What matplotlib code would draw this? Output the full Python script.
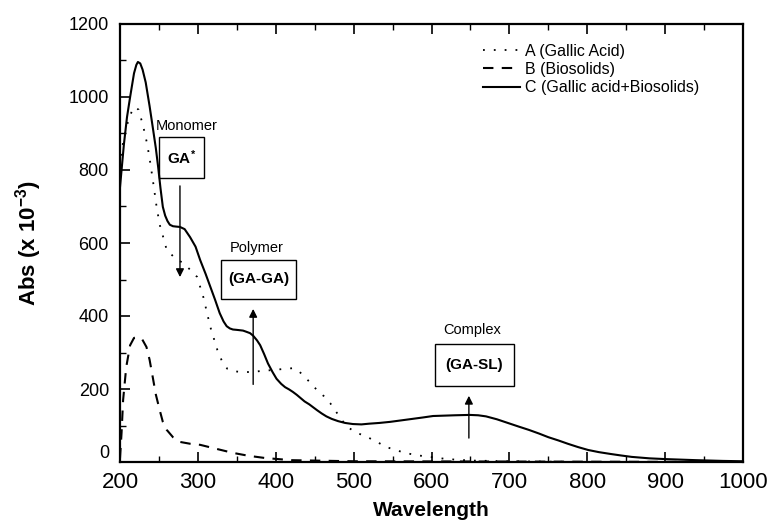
import numpy as np
import matplotlib
matplotlib.use("Agg")
import matplotlib.pyplot as plt
from matplotlib.patches import Rectangle

plt.rcParams["font.family"] = ["Liberation Sans", "DejaVu Sans"]
plt.rcParams["mathtext.default"] = "regular"

# curve C (Gallic acid + Biosolids)
wl_c = [200, 205, 209, 213, 218, 221, 223, 226, 229, 233, 238, 242, 246, 249, 252, 255,
        258, 261, 264, 268, 272, 277, 283, 290, 297, 303, 310, 316, 322, 328, 333, 337,
        341, 345, 350, 354, 358, 362, 367, 371, 376, 380, 385, 390, 396, 401, 407, 412,
        417, 422, 427, 432, 437, 443, 448, 453, 459, 465, 472, 480, 489, 499, 510, 520,
        533, 547, 561, 575, 589, 602, 616, 630, 649, 660, 670, 684, 698, 712, 725, 738,
        750, 763, 775, 788, 801, 815, 830, 843, 857, 880, 900, 940, 974, 1000]
abs_c = [753, 870, 945, 1000, 1065, 1088, 1096, 1092, 1075, 1040, 975, 918, 860, 808, 750, 699,
         675, 660, 650, 646, 645, 644, 638, 616, 590, 553, 515, 480, 445, 408, 385, 372,
         366, 363, 362, 361, 360, 357, 353, 346, 333, 320, 296, 270, 246, 228, 214, 205,
         199, 192, 184, 175, 166, 158, 150, 142, 133, 125, 118, 112, 107, 104, 103, 105,
         107, 110, 114, 118, 122, 126, 127, 128, 129, 128, 125, 117, 107, 97, 88, 78,
         68, 59, 50, 41, 33, 27, 22, 18, 14, 10, 8, 5, 3, 2]

# curve A (Gallic acid)
wl_a = [200, 204, 210, 215, 219, 224, 230, 235, 239, 243, 247, 251, 255, 260, 270, 281,
        290, 299, 307, 316, 325, 332, 338, 345, 358, 371, 384, 397, 410, 422, 428, 435,
        444, 453, 462, 470, 480, 491, 504, 517, 530, 542, 555, 568, 583, 598, 620, 650,
        700, 800, 1000]
abs_a = [780, 880, 930, 960, 973, 965, 918, 870, 818, 760, 699, 650, 620, 581, 560, 545,
         527, 507, 452, 370, 307, 271, 255, 249, 246, 247, 250, 252, 255, 257, 252, 238,
         218, 197, 180, 161, 130, 97, 80, 69, 55, 41, 32, 24, 18, 14, 8, 4,
         2, 0, 0]

# curve B (Biosolids)
wl_b = [200, 202, 204, 208, 213, 218, 223, 228, 234, 238, 242, 246, 251, 255, 260, 268,
        277, 290, 303, 320, 345, 365, 386, 420, 500, 1000]
abs_b = [10, 80, 170, 260, 320, 340, 342, 338, 315, 280, 233, 185, 142, 110, 88, 68,
         55, 50, 47, 38, 25, 17, 11, 5, 2, 0]

fig = plt.figure(figsize=(7.72, 5.25), dpi=100)
ax = fig.add_axes([120 / 772, 63 / 525, 623 / 772, 438 / 525])

ax.plot(wl_a, abs_a, color="black", lw=1.3, linestyle=(0, (1, 5)), label="A (Gallic Acid)")
ax.plot(wl_b, abs_b, color="black", lw=1.5, linestyle=(0, (5, 4)), label="B (Biosolids)")
ax.plot(wl_c, abs_c, color="black", lw=1.5, label="C (Gallic acid+Biosolids)")

ax.set_xlim(200, 1000)
ax.set_ylim(0, 1200)
ax.set_xticks(np.arange(200, 1001, 100))
ax.set_xticks(np.arange(250, 1000, 100), minor=True)
ax.set_yticks(np.arange(0, 1201, 200))
ax.set_yticks(np.arange(100, 1200, 200), minor=True)
ax.tick_params(axis="x", which="both", direction="in", top=True, labelsize=16, pad=7)
ax.tick_params(axis="y", which="both", direction="in", right=False, labelsize=13, pad=8)
ax.tick_params(which="major", length=7, width=1.2)
ax.tick_params(which="minor", length=4, width=1.0)
for s in ax.spines.values():
    s.set_linewidth(1.6)

# lift the "0" label a bit so it sits above the "200" label
ax.get_yticklabels()[0].set_va("bottom")

ax.set_xlabel("Wavelength", fontsize=15, fontweight="bold", labelpad=6)
ax.set_ylabel("Abs (x 10$^{-3}$)", fontsize=16, fontweight="bold", labelpad=18)

ax.legend(loc="upper left", bbox_to_anchor=(0.583, 0.955), frameon=False, fontsize=11.5,
          handlelength=2.3, handletextpad=0.3, labelspacing=0.2,
          borderpad=0, borderaxespad=0)

# annotation boxes
boxes = [((250, 778), 58, 112, "GA$^{*}$", "Monomer", 286, 921),
         ((330, 447), 96, 106, "(GA-GA)", "Polymer", 376, 586),
         ((604, 208), 102, 115, "(GA-SL)", "Complex", 652, 362)]
for (x0, y0), w, h, inner, title, tx, ty in boxes:
    ax.add_patch(Rectangle((x0, y0), w, h, fill=False, ec="black", lw=1.0))
    ax.text(x0 + w / 2, y0 + h / 2, inner, ha="center", va="center",
            fontsize=11, fontweight="bold")
    ax.text(tx, ty, title, ha="center", va="center", fontsize=10.5)

arrow = dict(arrowstyle="-|>", color="black", lw=1.0, mutation_scale=12)
ax.annotate("", xy=(277, 499), xytext=(277, 764), arrowprops=arrow)
ax.annotate("", xy=(371, 427), xytext=(371, 205), arrowprops=arrow)
ax.annotate("", xy=(648, 189), xytext=(648, 58), arrowprops=arrow)

fig.savefig("out.png", dpi=100)
